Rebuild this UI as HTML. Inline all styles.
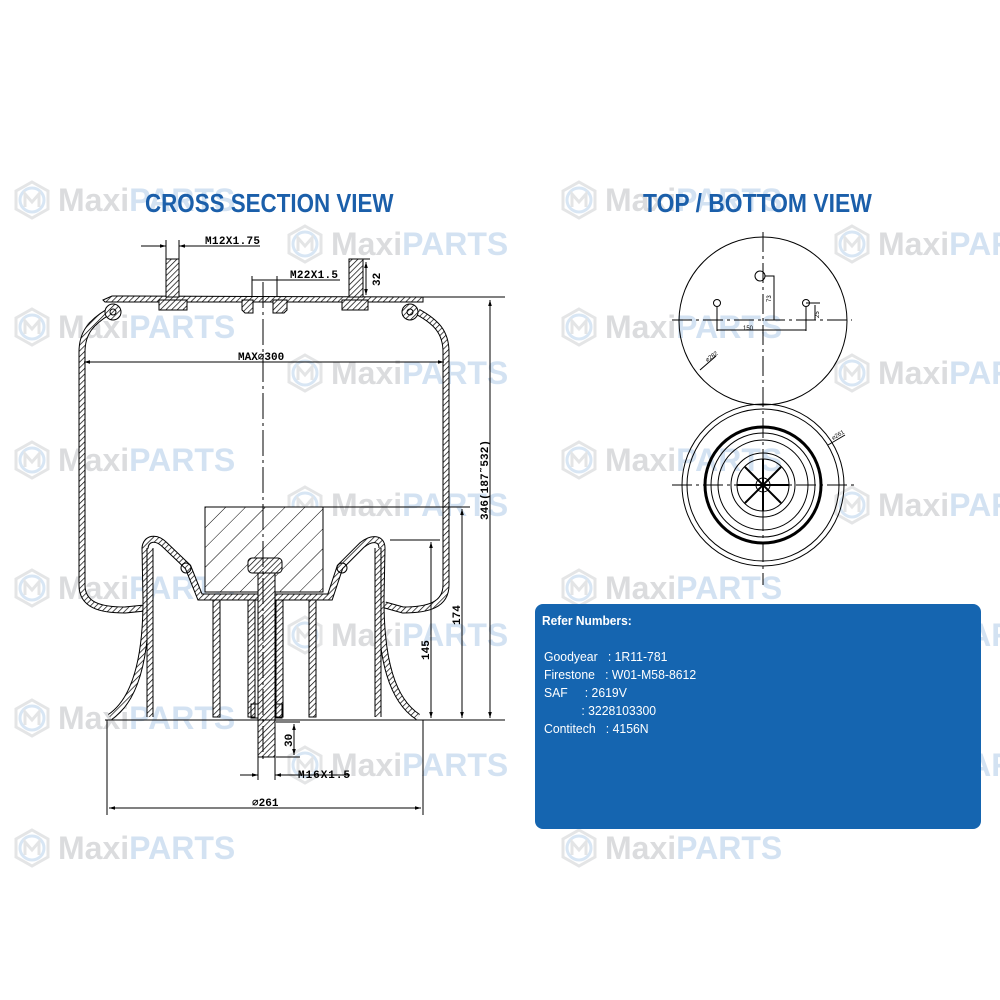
<!DOCTYPE html>
<html><head><meta charset="utf-8"><style>
html,body{margin:0;width:1000px;height:1000px;overflow:hidden}
body{background:#fff;position:relative;font-family:"Liberation Sans",sans-serif}
.wm{position:absolute;height:40px;width:240px;opacity:.45;overflow:hidden}
.wm span{position:absolute;left:46px;top:2px;font:bold 32px "Liberation Sans",sans-serif;white-space:nowrap}
.g{color:#b0b3b7}.b{color:#9fc0e4}
.t{position:absolute;font:bold 26px "Liberation Sans",sans-serif;color:#1b5faa;white-space:nowrap;transform-origin:0 0}
#box{position:absolute;left:535px;top:604px;width:446px;height:225px;background:#1565b0;border-radius:8px;color:#fff;font:13px "Liberation Sans",sans-serif}
</style></head><body>
<svg width="0" height="0" style="position:absolute"><defs>
<symbol id="hex" viewBox="0 0 40 40"><polygon points="20,2 36,11 36,29 20,38 4,29 4,11" fill="none" stroke="#c4c7ca" stroke-width="3"/><circle cx="20" cy="20" r="12" fill="none" stroke="#a9c8e8" stroke-width="3"/><path d="M13,27 V14 L20,22 L27,14 V27" fill="none" stroke="#c4c7ca" stroke-width="3"/></symbol>
</defs></svg>
<div class="wm" style="left:12px;top:180px"><svg width="40" height="40"><use href="#hex"/></svg><span><b class="g">Maxi</b><b class="b">PARTS</b></span></div>
<div class="wm" style="left:12px;top:307px"><svg width="40" height="40"><use href="#hex"/></svg><span><b class="g">Maxi</b><b class="b">PARTS</b></span></div>
<div class="wm" style="left:12px;top:440px"><svg width="40" height="40"><use href="#hex"/></svg><span><b class="g">Maxi</b><b class="b">PARTS</b></span></div>
<div class="wm" style="left:12px;top:568px"><svg width="40" height="40"><use href="#hex"/></svg><span><b class="g">Maxi</b><b class="b">PARTS</b></span></div>
<div class="wm" style="left:12px;top:698px"><svg width="40" height="40"><use href="#hex"/></svg><span><b class="g">Maxi</b><b class="b">PARTS</b></span></div>
<div class="wm" style="left:12px;top:828px"><svg width="40" height="40"><use href="#hex"/></svg><span><b class="g">Maxi</b><b class="b">PARTS</b></span></div>
<div class="wm" style="left:285px;top:224px"><svg width="40" height="40"><use href="#hex"/></svg><span><b class="g">Maxi</b><b class="b">PARTS</b></span></div>
<div class="wm" style="left:285px;top:353px"><svg width="40" height="40"><use href="#hex"/></svg><span><b class="g">Maxi</b><b class="b">PARTS</b></span></div>
<div class="wm" style="left:285px;top:485px"><svg width="40" height="40"><use href="#hex"/></svg><span><b class="g">Maxi</b><b class="b">PARTS</b></span></div>
<div class="wm" style="left:285px;top:615px"><svg width="40" height="40"><use href="#hex"/></svg><span><b class="g">Maxi</b><b class="b">PARTS</b></span></div>
<div class="wm" style="left:285px;top:745px"><svg width="40" height="40"><use href="#hex"/></svg><span><b class="g">Maxi</b><b class="b">PARTS</b></span></div>
<div class="wm" style="left:559px;top:180px"><svg width="40" height="40"><use href="#hex"/></svg><span><b class="g">Maxi</b><b class="b">PARTS</b></span></div>
<div class="wm" style="left:559px;top:307px"><svg width="40" height="40"><use href="#hex"/></svg><span><b class="g">Maxi</b><b class="b">PARTS</b></span></div>
<div class="wm" style="left:559px;top:440px"><svg width="40" height="40"><use href="#hex"/></svg><span><b class="g">Maxi</b><b class="b">PARTS</b></span></div>
<div class="wm" style="left:559px;top:568px"><svg width="40" height="40"><use href="#hex"/></svg><span><b class="g">Maxi</b><b class="b">PARTS</b></span></div>
<div class="wm" style="left:559px;top:828px"><svg width="40" height="40"><use href="#hex"/></svg><span><b class="g">Maxi</b><b class="b">PARTS</b></span></div>
<div class="wm" style="left:832px;top:224px;width:168px"><svg width="40" height="40"><use href="#hex"/></svg><span><b class="g">Maxi</b><b class="b">PARTS</b></span></div>
<div class="wm" style="left:832px;top:353px;width:168px"><svg width="40" height="40"><use href="#hex"/></svg><span><b class="g">Maxi</b><b class="b">PARTS</b></span></div>
<div class="wm" style="left:832px;top:485px;width:168px"><svg width="40" height="40"><use href="#hex"/></svg><span><b class="g">Maxi</b><b class="b">PARTS</b></span></div>
<div class="wm" style="left:832px;top:615px;width:168px"><svg width="40" height="40"><use href="#hex"/></svg><span><b class="g">Maxi</b><b class="b">PARTS</b></span></div>
<div class="wm" style="left:832px;top:745px;width:168px"><svg width="40" height="40"><use href="#hex"/></svg><span><b class="g">Maxi</b><b class="b">PARTS</b></span></div>

<div class="t" style="left:145px;top:188px;transform:scaleX(.86)">CROSS SECTION VIEW</div>
<div class="t" style="left:643px;top:188px;transform:scaleX(.88)">TOP / BOTTOM VIEW</div>

<svg width="1000" height="1000" style="position:absolute;left:0;top:0">
<defs>
<pattern id="h" width="4" height="4" patternUnits="userSpaceOnUse" patternTransform="rotate(45)"><rect width="4" height="4" fill="#fff"/><line x1="0" y1="0" x2="0" y2="4" stroke="#000" stroke-width="1.4"/></pattern>
<pattern id="h2" width="14" height="14" patternUnits="userSpaceOnUse" patternTransform="rotate(45)"><rect width="14" height="14" fill="#fff"/><line x1="0" y1="0" x2="0" y2="14" stroke="#000" stroke-width="1"/></pattern>
<marker id="a" viewBox="0 0 10 10" refX="10" refY="5" markerWidth="8" markerHeight="6" orient="auto-start-reverse"><path d="M0,2 L10,5 L0,8z" fill="#000"/></marker>
</defs>
<g fill="none" stroke="#000" stroke-width="1">
<g id="bel">
<path d="M108,312 C92,322 82,332 82,352 L82,585 C82,605 100,610 125,610 L145,608 M418,312 C436,322 446,332 446,352 L446,585 C446,605 428,610 403,610 L385,605" stroke-width="7"/>
<path d="M108,312 C92,322 82,332 82,352 L82,585 C82,605 100,610 125,610 L145,608 M418,312 C436,322 446,332 446,352 L446,585 C446,605 428,610 403,610 L385,605" stroke="url(#h)" stroke-width="5"/>
</g>
<path d="M110,717 C135,700 146,660 146,600 L145,548 C146,538 156,536 165,545 L188,567 L200,597 L330,597 L340,567 L362,545 C372,537 382,538 382,548 L381,600 C381,660 392,700 418,717" stroke-width="7"/>
<path d="M110,717 C135,700 146,660 146,600 L145,548 C146,538 156,536 165,545 L188,567 L200,597 L330,597 L340,567 L362,545 C372,537 382,538 382,548 L381,600 C381,660 392,700 418,717" stroke="url(#h)" stroke-width="5"/>
<path d="M150,548 L150,717 M378,548 L378,717" stroke-width="7"/>
<path d="M150,548 L150,717 M378,548 L378,717" stroke="url(#h)" stroke-width="5"/>
<rect x="213" y="600" width="7" height="117" fill="url(#h)"/>
<rect x="309" y="600" width="7" height="117" fill="url(#h)"/>
<rect x="248" y="600" width="7" height="117" fill="url(#h)"/>
<rect x="276" y="600" width="7" height="117" fill="url(#h)"/>
<circle cx="186" cy="568" r="5"/><circle cx="342" cy="568" r="5"/>
<rect x="205" y="507" width="118" height="85" fill="url(#h2)"/>
<rect x="258" y="572" width="17" height="185" fill="url(#h)"/>
<rect x="248" y="558" width="34" height="15" rx="4" fill="url(#h)"/>
<rect x="251" y="704" width="7" height="14"/><rect x="275" y="704" width="7" height="14"/>
<path d="M103,300 L112,296 L423,297 L423,302 L105,302z" fill="url(#h)"/>
<circle cx="113" cy="312" r="8" fill="url(#h)"/><circle cx="113" cy="312" r="3"/>
<circle cx="410" cy="312" r="8" fill="url(#h)"/><circle cx="410" cy="312" r="3"/>
<rect x="166" y="259" width="13" height="38" fill="url(#h)"/>
<rect x="159" y="300" width="28" height="10" fill="url(#h)"/>
<rect x="349" y="259" width="14" height="38" fill="url(#h)"/>
<rect x="342" y="300" width="26" height="10" fill="url(#h)"/>
<path d="M242,300 H253 V313 H245 L242,310z M273,300 H287 V310 L284,313 H273z" fill="url(#h)"/>
<path d="M105,720 H425 M107,720 V815 M423,720 V815"/>
<path d="M263,282 V760" stroke-dasharray="26,4,3,4"/>
<path d="M84,362 H444" marker-start="url(#a)" marker-end="url(#a)"/>
<path d="M423,297 H505 M323,507 H470 M390,540 H440 M425,720 H505" />
<path d="M490,300 V718" marker-start="url(#a)" marker-end="url(#a)"/>
<path d="M462,509 V718" marker-start="url(#a)" marker-end="url(#a)"/>
<path d="M431,542 V718" marker-start="url(#a)" marker-end="url(#a)"/>
<path d="M109,808 H421" marker-start="url(#a)" marker-end="url(#a)"/>
<path d="M166,240 V262 M179,240 V262 M141,246 H166 M200,246 H179 M179,246 H260" />
<path d="M150,246 H166" marker-end="url(#a)"/><path d="M192,246 H179" marker-end="url(#a)"/>
<path d="M252,276 V297 M277,276 V297 M252,280 H277 M277,280 H340"/>
<path d="M366,262 V295" marker-start="url(#a)" marker-end="url(#a)"/>
<path d="M349,259 H370"/>
<path d="M276,722 H300 M276,757 H300"/>
<path d="M294,724 V755" marker-start="url(#a)" marker-end="url(#a)"/>
<path d="M258,757 V780 M275,757 V780 M240,775 H258 M275,775 H350"/>
<path d="M246,775 H258" marker-end="url(#a)"/><path d="M287,775 H275" marker-end="url(#a)"/>
</g>
<g font-family="Liberation Mono,monospace" font-size="11" fill="#000" font-weight="bold">
<text x="205" y="244" textLength="55">M12X1.75</text>
<text x="290" y="278" textLength="48">M22X1.5</text>
<text x="238" y="360">MAX⌀300</text>
<text x="298" y="778" textLength="52">M16X1.5</text>
<text x="252" y="806">⌀261</text>
<text transform="translate(380,286) rotate(-90)">32</text>
<text transform="translate(488,520) rotate(-90)" textLength="80">346(187˜532)</text>
<text transform="translate(460,625) rotate(-90)">174</text>
<text transform="translate(429,660) rotate(-90)">145</text>
<text transform="translate(292,747) rotate(-90)">30</text>
</g>
<g fill="none" stroke="#000" stroke-width="1">
<circle cx="763" cy="321" r="84"/>
<path d="M763,232 V585 M672,320 H852 M672,485 H855" stroke-dasharray="20,4,3,4"/>
<circle cx="760" cy="276" r="5"/><circle cx="717" cy="303" r="3.5"/><circle cx="806" cy="303" r="3.5"/>
<path d="M717,307 V331 M806,307 V331 M717,330 H806 M765,276 H774 V320 M806,303 H820 M815,305 V320"/>
<path d="M700,370 L716,356"/>
<circle cx="763" cy="485" r="81"/><circle cx="763" cy="485" r="76"/>
<circle cx="763" cy="485" r="58" stroke-width="3"/>
<circle cx="763" cy="485" r="52"/><circle cx="763" cy="485" r="45"/><circle cx="763" cy="485" r="32"/><circle cx="763" cy="485" r="26"/><circle cx="763" cy="485" r="7"/>
<path d="M763,459 V511 M737,485 H789 M745,467 L781,503 M781,467 L745,503" stroke-width="2"/>
<path d="M828,445 L845,435"/>
</g>
<g font-family="Liberation Sans,sans-serif" font-size="6" fill="#000">
<text x="743" y="330">150</text>
<text transform="translate(771,302) rotate(-90)">73</text>
<text transform="translate(819,318) rotate(-90)">25</text>
<text transform="translate(707,362) rotate(-35)">⌀282</text>
<text transform="translate(833,440) rotate(-30)">⌀261</text>
</g>
</svg>

<div id="box">
<div style="position:absolute;left:7px;top:9px;font-weight:bold;transform:scaleX(.92);transform-origin:0 0">Refer Numbers:</div>
<div style="position:absolute;left:9px;top:44px;line-height:18px;white-space:pre;transform:scaleX(.94);transform-origin:0 0">Goodyear   : 1R11-781
Firestone   : W01-M58-8612
SAF     : 2619V
           : 3228103300
Contitech   : 4156N</div>
</div>
</body></html>
